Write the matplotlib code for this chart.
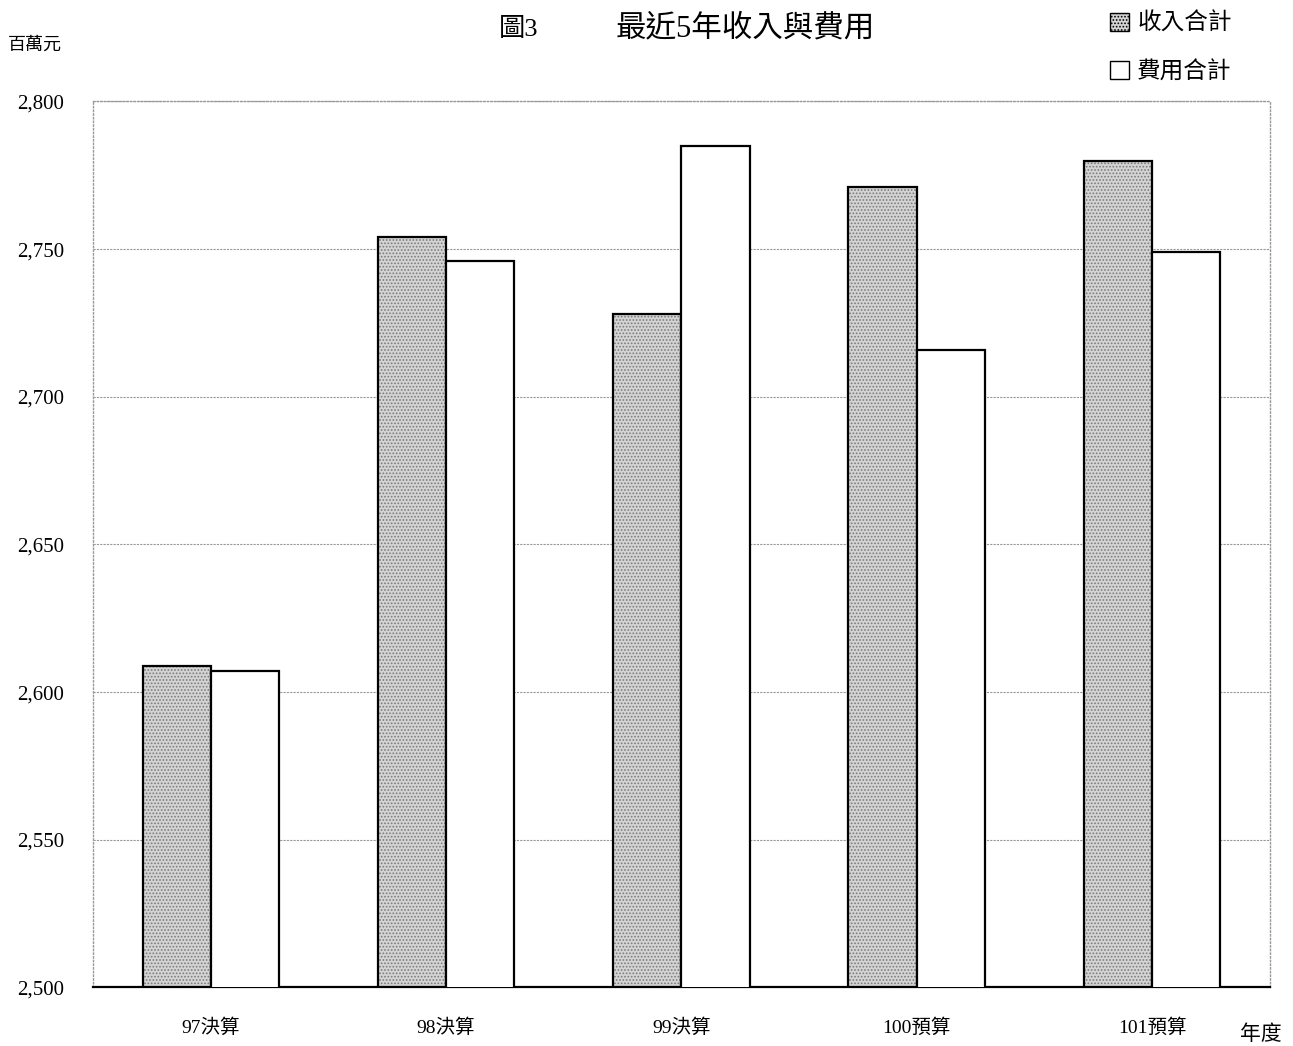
## 最近5年收入與費用 bar chart
import matplotlib
matplotlib.use("Agg")
import matplotlib.pyplot as plt
from matplotlib.patches import Patch
from matplotlib.ticker import FuncFormatter

plt.rcParams['font.family'] = ['Liberation Serif', 'Noto Sans CJK TC']
plt.rcParams['hatch.linewidth'] = 0.8

# data (百萬元)
years = ['97決算', '98決算', '99決算', '100預算', '101預算']
income = [2609, 2754, 2728, 2771, 2780]
expense = [2607, 2746, 2785, 2716, 2749]
y_ticks = [2500, 2550, 2600, 2650, 2700, 2750, 2800]

fig = plt.figure(figsize=(12.93, 10.46), dpi=100)
ax = fig.add_axes([0.072, 0.056, 0.910, 0.847])

x = list(range(len(years)))
w = 0.29
xi = [i - w / 2 for i in x]
xe = [i + w / 2 for i in x]

# grey stippled bars: fill + dots, then black outline on top
ax.bar(xi, income, width=w, color='#d4d4d4', edgecolor='#7a7a7a',
       hatch='.....', linewidth=0, zorder=2)
ax.bar(xi, income, width=w, fill=False, edgecolor='black', linewidth=1.6, zorder=3)
ax.bar(xe, expense, width=w, color='white', edgecolor='black', linewidth=1.6, zorder=3)

ax.set_xlim(-0.5, 4.5)
ax.set_ylim(2500, 2800)
ax.set_yticks(y_ticks)
ax.yaxis.set_major_formatter(FuncFormatter(lambda v, p: f"{int(v):,}"))
ax.set_xticks(x)
ax.set_xticklabels(years)
ax.tick_params(axis='both', length=0)
ax.tick_params(axis='x', pad=22, labelsize=14)
ax.tick_params(axis='y', pad=21, labelsize=15)

ax.grid(axis='y', color='#999999', linestyle=(0, (2, 1)), linewidth=0.8, zorder=1)
for side in ['top', 'left', 'right']:
    ax.spines[side].set_color('#999999')
    ax.spines[side].set_linestyle(':')
    ax.spines[side].set_linewidth(1.0)
ax.spines['bottom'].set_color('black')
ax.spines['bottom'].set_linewidth(1.6)

fig.text(0.401, 0.972, '圖3', ha='center', va='center', fontsize=19)
fig.text(0.576, 0.972, '最近5年收入與費用', ha='center', va='center', fontsize=22)
fig.text(0.006, 0.957, '百萬元', ha='left', va='center', fontsize=13)
fig.text(0.975, 0.010, '年度', ha='center', va='center', fontsize=15)

handles = [Patch(facecolor='#d4d4d4', edgecolor='black', hatch='.....', label='收入合計'),
           Patch(facecolor='white', edgecolor='black', label='費用合計')]
fig.legend(handles=handles, loc='upper left', bbox_to_anchor=(0.842, 1.008), frameon=False,
           fontsize=17, handlelength=0.8, handleheight=0.8, handletextpad=0.35,
           labelspacing=1.1)

fig.savefig('out.png', dpi=100)
